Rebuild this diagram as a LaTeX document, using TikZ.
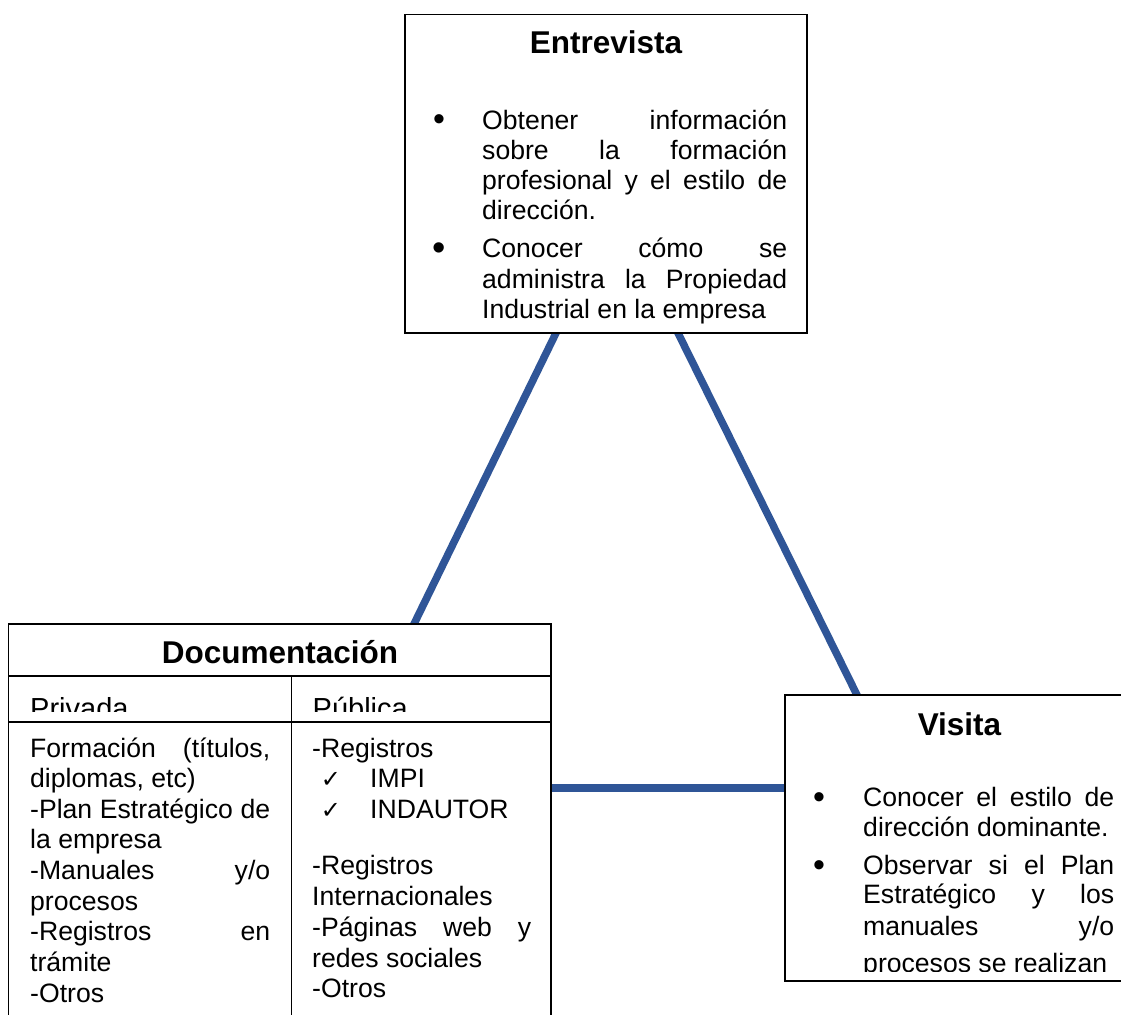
\documentclass[tikz,border=0pt]{standalone}
\usepackage{fontspec}
\setmainfont{Liberation Sans}
\newfontfamily\symfont{DejaVu Sans}
\usetikzlibrary{calc}
\pgfdeclarelayer{paper}
\pgfdeclarelayer{background}
\pgfsetlayers{paper,background,main}
\definecolor{linkblue}{RGB}{47,85,151}
\begin{document}
\begin{tikzpicture}[x=1pt,y=-1pt,
  box/.style={draw=black,line width=1.3pt,fill=white,inner sep=0pt,outer sep=0pt,anchor=north west},
  link/.style={draw=linkblue,line width=7.5pt,shorten <=-6pt,shorten >=-6pt},
  ttl/.style={font=\fontsize{31.5}{36}\selectfont\bfseries,anchor=base,inner sep=0pt},
  txt/.style={font=\fontsize{26.6}{30.6}\selectfont,anchor=base west,inner sep=0pt},
  hdr/.style={font=\fontsize{29}{33}\selectfont,anchor=base west,inner sep=0pt},
  bul/.style={font=\fontsize{34}{34}\selectfont,anchor=base,inner sep=0pt},
  chk/.style={font=\symfont\fontsize{24}{26}\selectfont,anchor=base,inner sep=0pt}]
\clip (0,0) rectangle (1121,1014);
\begin{pgfonlayer}{paper}
\fill[white] (0,0) rectangle (1121,1014);
\end{pgfonlayer}

% boxes
\node[box,minimum width=402pt,minimum height=318.5pt] (ent) at (405,14.5) {};
\node[box,minimum width=542.5pt,minimum height=440pt] (doc) at (8.5,624) {};
\node[box,minimum width=380pt,minimum height=286pt] (vis) at (785,695) {};

% connectors
\begin{pgfonlayer}{background}
\draw[link] ([xshift=151pt]ent.south west) -- ([xshift=405.5pt]doc.north west);
\draw[link] ([xshift=273pt]ent.south west) -- ([xshift=72pt]vis.north west);
\draw[link] ([yshift=-164pt]doc.north east) -- ([yshift=-93pt]vis.north west);
\end{pgfonlayer}

% table rules inside Documentación
\draw[line width=1.3pt] (8.5,676) -- (551,676);
\draw[line width=1.3pt] (8.5,722) -- (551,722);
\draw[line width=1.3pt] (291.5,676) -- (291.5,1030);

% Entrevista
\node[ttl] (entt) at (606,54) {Entrevista};
\node[bul] (eb1) at (439,131) {•};
\node[txt] (e1) at (482,129) {\makebox[305pt][s]{Obtener información}};
\node[txt] (e2) at (482,159) {\makebox[305pt][s]{sobre la formación}};
\node[txt] (e3) at (482,189) {\makebox[305pt][s]{profesional y el estilo de}};
\node[txt] (e4) at (482,219) {dirección.};
\node[bul] (eb2) at (439,260) {\fontsize{38}{38}\selectfont •};
\node[txt] (e5) at (482,257) {\makebox[305pt][s]{Conocer cómo se}};
\node[txt] (e6) at (482,288) {\makebox[305pt][s]{administra la Propiedad}};
\node[txt] (e7) at (482,318) {Industrial en la empresa};

% Documentación
\node[ttl] (doct) at (280,663) {Documentación};
\begin{scope}
\clip (0,677) rectangle (1121,711);
\node[hdr] (priv) at (30,718) {Privada};
\node[hdr] (pub) at (312.5,718) {Pública};
\end{scope}
\node[txt] (l1) at (30,757) {\makebox[240pt][s]{Formación (títulos,}};
\node[txt] (l2) at (30,787) {diplomas, etc)};
\node[txt] (l3) at (30,818) {\makebox[240pt][s]{-Plan Estratégico de}};
\node[txt] (l4) at (30,848) {la empresa};
\node[txt] (l5) at (30,879) {\makebox[240pt][s]{-Manuales y/o}};
\node[txt] (l6) at (30,910) {procesos};
\node[txt] (l7) at (30,940) {\makebox[240pt][s]{-Registros en}};
\node[txt] (l8) at (30,971) {trámite};
\node[txt] (l9) at (30,1002) {-Otros};

\node[txt] (r1) at (312,757) {-Registros};
\node[chk] (c1) at (331,787) {✓};
\node[txt] (r2) at (370,787) {IMPI};
\node[chk] (c2) at (331,818) {✓};
\node[txt] (r3) at (370,818) {INDAUTOR};
\node[txt] (r4) at (312,874) {-Registros};
\node[txt] (r5) at (312,905) {Internacionales};
\node[txt] (r6) at (312,936) {\makebox[219pt][s]{-Páginas web y}};
\node[txt] (r7) at (312,967) {redes sociales};
\node[txt] (r8) at (312,997) {-Otros};

% Visita
\node[ttl] (vist) at (959.5,735) {Visita};
\node[bul] (vb1) at (819,808) {•};
\node[txt] (v1) at (863,806) {\makebox[251pt][s]{Conocer el estilo de}};
\node[txt] (v2) at (863,836) {dirección dominante.};
\node[bul] (vb2) at (819,876) {•};
\node[txt] (v3) at (863,874) {\makebox[251pt][s]{Observar si el Plan}};
\node[txt] (v4) at (863,903) {\makebox[251pt][s]{Estratégico y los}};
\node[txt] (v5) at (863,935) {\makebox[251pt][s]{manuales y/o}};
\begin{scope}
\clip (786,945) rectangle (1121,971);
\node[txt] (v6) at (863,972) {procesos se realizan};
\end{scope}
\end{tikzpicture}
\end{document}
